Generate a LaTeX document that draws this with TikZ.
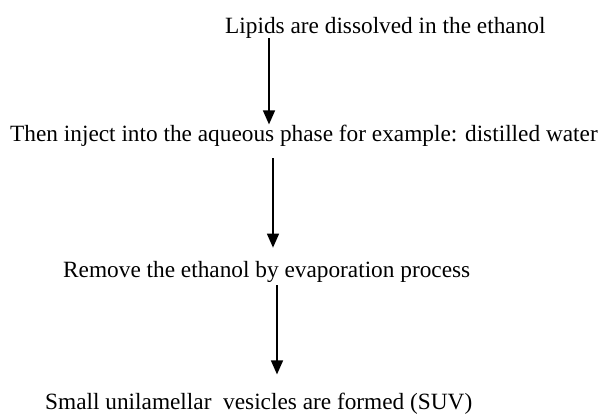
\documentclass[tikz,border=0pt]{standalone}
\usepackage{fontspec}
\setmainfont{Liberation Serif}
\usetikzlibrary{arrows.meta}
\begin{document}
\begin{tikzpicture}[x=1bp,y=-1bp,
  steptext/.style={anchor=base west,inner sep=0pt,font=\fontsize{23.3bp}{28bp}\selectfont},
  arr/.style={line width=1.5bp,-{Triangle[width=12bp,length=14bp]}}]
\useasboundingbox (0,0) rectangle (604,415);
\node[steptext] (t1) at (225,33) {Lipids are dissolved in the ethanol};
\node[steptext] (t2) at (10,141) {Then inject into the aqueous phase for example: distilled water};
\node[steptext] (t3) at (63,277) {Remove the ethanol by evaporation process};
\node[steptext] (t4) at (45,409) {Small unilamellar\ \ vesicles are formed (SUV)};
\coordinate (x1) at (269,0);
\coordinate (x2) at (273,0);
\coordinate (x3) at (277,0);
\draw[arr] (t1.south -| x1) -- (t2.north -| x1);
\draw[arr,shorten <=12bp,shorten >=13bp] (t2.south -| x2) -- (t3.north -| x2);
\draw[arr,shorten <=3bp,shorten >=18bp] (t3.south -| x3) -- (t4.north -| x3);
\end{tikzpicture}
\end{document}
